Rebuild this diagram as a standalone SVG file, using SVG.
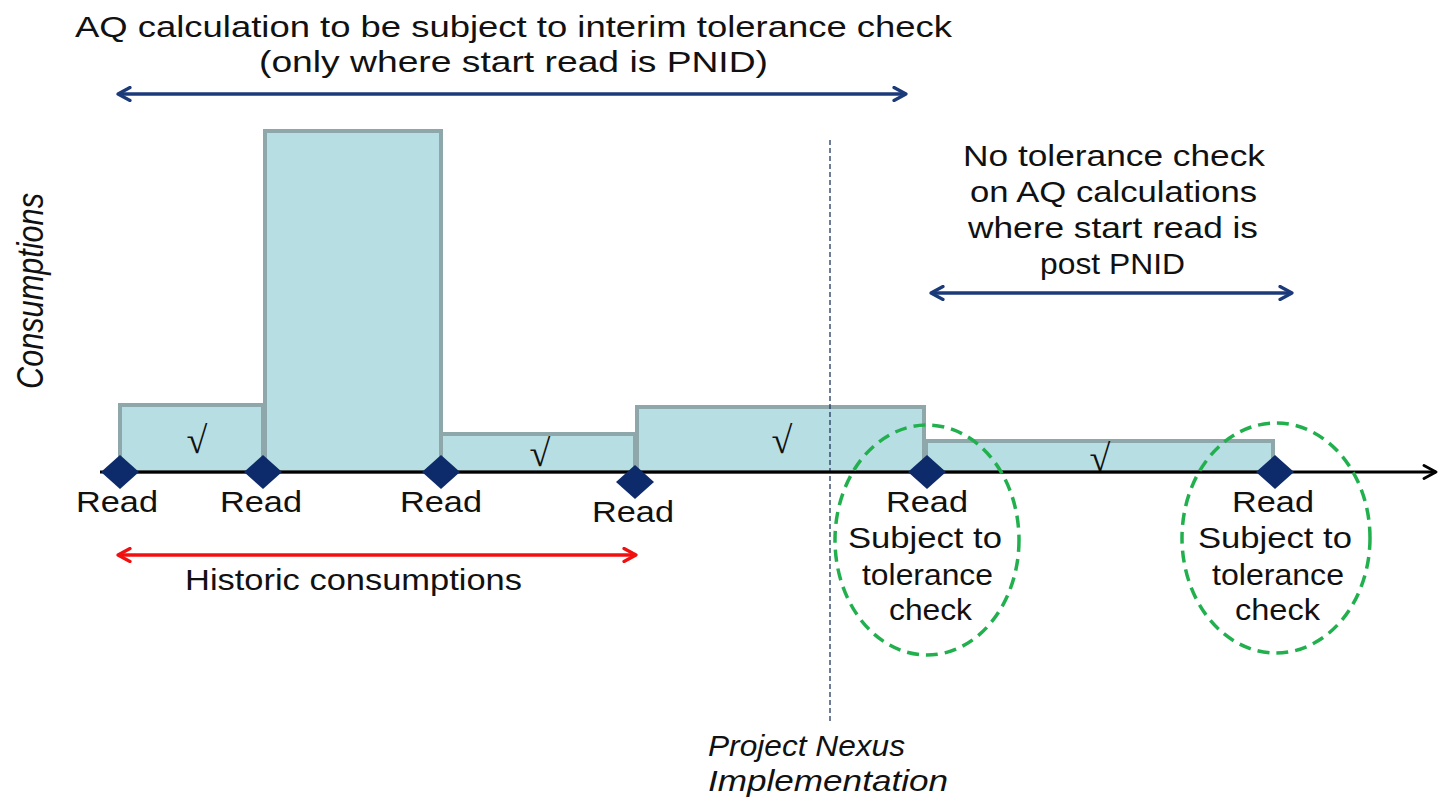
<svg xmlns="http://www.w3.org/2000/svg" width="1441" height="805" viewBox="0 0 1441 805">
<style>
.t{font-family:"Liberation Sans",Arial,sans-serif;font-size:29px;fill:#111;}
.ti{font-family:"Liberation Sans",Arial,sans-serif;font-size:30px;font-style:italic;fill:#111;}
.tv{font-size:37px;}
.bar{fill:#B7DEE2;stroke:#8EA7AB;stroke-width:4;}
.chk{font-family:"Liberation Serif","DejaVu Serif",serif;font-size:38px;fill:#111;text-anchor:middle;}
.dia{fill:#0D2A6A;}
.ell{fill:none;stroke:#22B04F;stroke-width:3.5;stroke-dasharray:12 7;}
</style>
<defs>
<marker id="hn" viewBox="0 0 16 16" refX="14" refY="8" markerWidth="16" markerHeight="16" markerUnits="userSpaceOnUse" orient="auto-start-reverse"><path d="M2,1.5 L14,8 L2,14.5" fill="none" stroke="#1B3A7A" stroke-width="3.2" stroke-linecap="round" stroke-linejoin="round"/></marker>
<marker id="hr" viewBox="0 0 16 16" refX="14" refY="8" markerWidth="16" markerHeight="16" markerUnits="userSpaceOnUse" orient="auto-start-reverse"><path d="M2,1.5 L14,8 L2,14.5" fill="none" stroke="#F01010" stroke-width="3.2" stroke-linecap="round" stroke-linejoin="round"/></marker>
<marker id="hk" viewBox="0 0 16 16" refX="14" refY="8" markerWidth="16" markerHeight="16" markerUnits="userSpaceOnUse" orient="auto"><path d="M2,1.5 L14,8 L2,14.5" fill="none" stroke="#000" stroke-width="2.8" stroke-linecap="round" stroke-linejoin="round"/></marker>
</defs>
<rect width="1441" height="805" fill="#fff"/>

<g id="bars">
<rect class="bar" x="120" y="405" width="143" height="67"/>
<rect class="bar" x="265" y="131" width="176" height="341"/>
<rect class="bar" x="441" y="434" width="194" height="38"/>
<rect class="bar" x="637" y="407" width="287" height="65"/>
<rect class="bar" x="926" y="441" width="347" height="31"/>
<text class="chk" x="197" y="453">√</text>
<text class="chk" x="540" y="466">√</text>
<text class="chk" x="782" y="453">√</text>
<text class="chk" x="1100" y="471">√</text>
</g>

<g id="connectors">
<line x1="830" y1="140" x2="830" y2="722" stroke="#1F3864" stroke-width="1.3" stroke-dasharray="5 3"/>
<line x1="100" y1="472" x2="1436" y2="472" stroke="#000" stroke-width="3" marker-end="url(#hk)"/>
<line x1="118" y1="94" x2="906" y2="94" stroke="#1B3A7A" stroke-width="3.5" marker-start="url(#hn)" marker-end="url(#hn)"/>
<line x1="931" y1="293" x2="1292" y2="293" stroke="#1B3A7A" stroke-width="3.5" marker-start="url(#hn)" marker-end="url(#hn)"/>
<line x1="118" y1="555" x2="636" y2="555" stroke="#F01010" stroke-width="3.5" marker-start="url(#hr)" marker-end="url(#hr)"/>
</g>

<g id="reads">
<path class="dia" d="M120,455 L139,472 L120,489 L101,472 Z"/>
<path class="dia" d="M263,455 L282,472 L263,489 L244,472 Z"/>
<path class="dia" d="M441,455 L460,472 L441,489 L422,472 Z"/>
<path class="dia" d="M635,465 L654,482 L635,499 L616,482 Z"/>
<path class="dia" d="M927,455 L946,472 L927,489 L908,472 Z"/>
<path class="dia" d="M1275,455 L1294,472 L1275,489 L1256,472 Z"/>
<text class="t" x="76" y="512" textLength="82" lengthAdjust="spacingAndGlyphs">Read</text>
<text class="t" x="220" y="512" textLength="82" lengthAdjust="spacingAndGlyphs">Read</text>
<text class="t" x="400" y="512" textLength="82" lengthAdjust="spacingAndGlyphs">Read</text>
<text class="t" x="592" y="522" textLength="82" lengthAdjust="spacingAndGlyphs">Read</text>
</g>

<g id="check1">
<ellipse class="ell" cx="927" cy="540" rx="92" ry="115"/>
<text class="t" x="886" y="512" textLength="82" lengthAdjust="spacingAndGlyphs">Read</text>
<text class="t" x="848" y="548" textLength="154" lengthAdjust="spacingAndGlyphs">Subject to</text>
<text class="t" x="862" y="585" textLength="131" lengthAdjust="spacingAndGlyphs">tolerance</text>
<text class="t" x="889" y="620" textLength="83" lengthAdjust="spacingAndGlyphs">check</text>
</g>

<g id="check2">
<ellipse class="ell" cx="1276" cy="538" rx="94" ry="115"/>
<text class="t" x="1232" y="512" textLength="82" lengthAdjust="spacingAndGlyphs">Read</text>
<text class="t" x="1198" y="548" textLength="154" lengthAdjust="spacingAndGlyphs">Subject to</text>
<text class="t" x="1212" y="585" textLength="132" lengthAdjust="spacingAndGlyphs">tolerance</text>
<text class="t" x="1235" y="620" textLength="85" lengthAdjust="spacingAndGlyphs">check</text>
</g>

<g id="labels">
<text class="t" x="75" y="37" textLength="877" lengthAdjust="spacingAndGlyphs">AQ calculation  to be subject to interim tolerance check</text>
<text class="t" x="259" y="72" textLength="509" lengthAdjust="spacingAndGlyphs">(only where start read is PNID)</text>
<text class="t" x="963" y="166" textLength="302" lengthAdjust="spacingAndGlyphs">No tolerance check</text>
<text class="t" x="970" y="202" textLength="287" lengthAdjust="spacingAndGlyphs">on AQ calculations</text>
<text class="t" x="968" y="238" textLength="290" lengthAdjust="spacingAndGlyphs">where start read is</text>
<text class="t" x="1040" y="274" textLength="145" lengthAdjust="spacingAndGlyphs">post PNID</text>
<text class="t" x="185" y="590" textLength="337" lengthAdjust="spacingAndGlyphs">Historic consumptions</text>
<text class="ti" x="708" y="756" textLength="197" lengthAdjust="spacingAndGlyphs">Project Nexus</text>
<text class="ti" x="708" y="791" textLength="240" lengthAdjust="spacingAndGlyphs">Implementation</text>
<text class="ti tv" transform="translate(43,389) rotate(-90)" x="0" y="0" textLength="196" lengthAdjust="spacingAndGlyphs">Consumptions</text>
</g>
</svg>
